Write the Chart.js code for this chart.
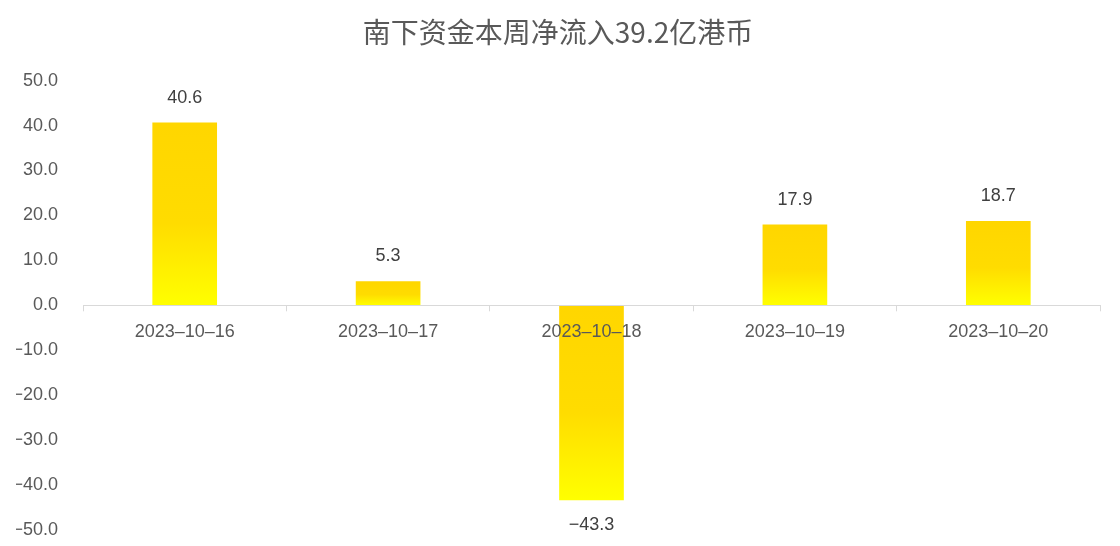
<!DOCTYPE html>
<html>
<head>
<meta charset="utf-8">
<script src="https://cdn.jsdelivr.net/npm/chart.js@4.4.0/dist/chart.umd.min.js"></script>
<style>
  html, body { margin: 0; padding: 0; background: #fff; }
  #wrap { width: 1120px; height: 546px; }
</style>
</head>
<body>
<div id="wrap"><canvas id="flowChart"></canvas></div>
<script>
// data
const categories = ["2023-10-16", "2023-10-17", "2023-10-18", "2023-10-19", "2023-10-20"];
const netFlow = [40.6, 5.3, -43.3, 17.9, 18.7];
const yTicks = [-50, -40, -30, -20, -10, 0, 10, 20, 30, 40, 50];

const FONT = "'Liberation Sans', 'Noto Sans CJK SC', sans-serif";
const TEXT = "#595959";

// per-bar gradient: gold on top, bright yellow at the bottom
function barFill(context) {
  const chart = context.chart;
  if (!chart.chartArea) return "#FFD700";
  const y = chart.scales.y;
  const a = y.getPixelForValue(0);
  const b = y.getPixelForValue(context.raw);
  const g = chart.ctx.createLinearGradient(0, Math.min(a, b), 0, Math.max(a, b));
  g.addColorStop(0, "#FFD600");
  g.addColorStop(0.55, "#FFDC00");
  g.addColorStop(1, "#FFFF00");
  return g;
}

// move the category axis up to the zero line (it takes no room at the bottom)
const zeroAxis = {
  id: "zeroAxis",
  afterLayout(chart) {
    const x = chart.scales.x;
    const y0 = chart.scales.y.getPixelForValue(0);
    x.top = y0;
    x.bottom = y0 + 40;
  }
};

// value labels above / below each bar
const valueLabels = {
  id: "valueLabels",
  afterDraw(chart) {
    const c = chart.ctx;
    const meta = chart.getDatasetMeta(0);
    c.save();
    c.font = "18px " + FONT;
    c.fillStyle = "#404040";
    c.textAlign = "center";
    c.textBaseline = "middle";
    meta.data.forEach((bar, i) => {
      const v = netFlow[i];
      const txt = v < 0 ? "\u2212" + Math.abs(v).toFixed(1) : v.toFixed(1);
      const y = v >= 0 ? bar.y - 25 : bar.y + 25;
      c.fillText(txt, bar.x, y);
    });
    c.restore();
  }
};

new Chart(document.getElementById("flowChart"), {
  type: "bar",
  data: {
    labels: categories,
    datasets: [{
      data: netFlow,
      backgroundColor: barFill,
      borderWidth: 0,
      barThickness: 64
    }]
  },
  options: {
    responsive: true,
    maintainAspectRatio: false,
    animation: false,
    layout: { padding: { left: 16, right: 20, top: 0, bottom: 16 } },
    plugins: {
      legend: { display: false },
      tooltip: { enabled: false },
      title: {
        display: true,
        text: "南下资金本周净流入39.2亿港币",
        color: TEXT,
        font: { family: "'Noto Sans CJK SC', sans-serif", size: 28, weight: "normal" },
        padding: { top: 16, bottom: 31 }
      }
    },
    scales: {
      x: {
        position: "bottom",
        afterFit: s => { s.height = 0; },
        grid: {
          offset: true,
          drawOnChartArea: false,
          drawTicks: true,
          tickLength: 6,
          color: "#d9d9d9",
          z: 1
        },
        border: { color: "#d9d9d9", width: 1, z: 1 },
        ticks: {
          color: TEXT,
          font: { family: FONT, size: 18 },
          padding: 10,
          z: 1,
          callback: function (v) { return this.getLabelForValue(v).replace(/-/g, "\u2013"); }
        }
      },
      y: {
        min: -50,
        max: 50,
        afterBuildTicks: s => { s.ticks = yTicks.map(v => ({ value: v })); },
        afterFit: s => { s.width = 67; s.paddingTop = 0; s.paddingBottom = 0; },
        grid: { display: false, drawTicks: false },
        border: { display: false },
        ticks: {
          color: TEXT,
          font: { family: FONT, size: 18 },
          padding: 25,
          callback: v => (v < 0 ? "\u2212" + Math.abs(v).toFixed(1) : v.toFixed(1))
        }
      }
    }
  },
  plugins: [zeroAxis, valueLabels]
});
</script>
</body>
</html>
